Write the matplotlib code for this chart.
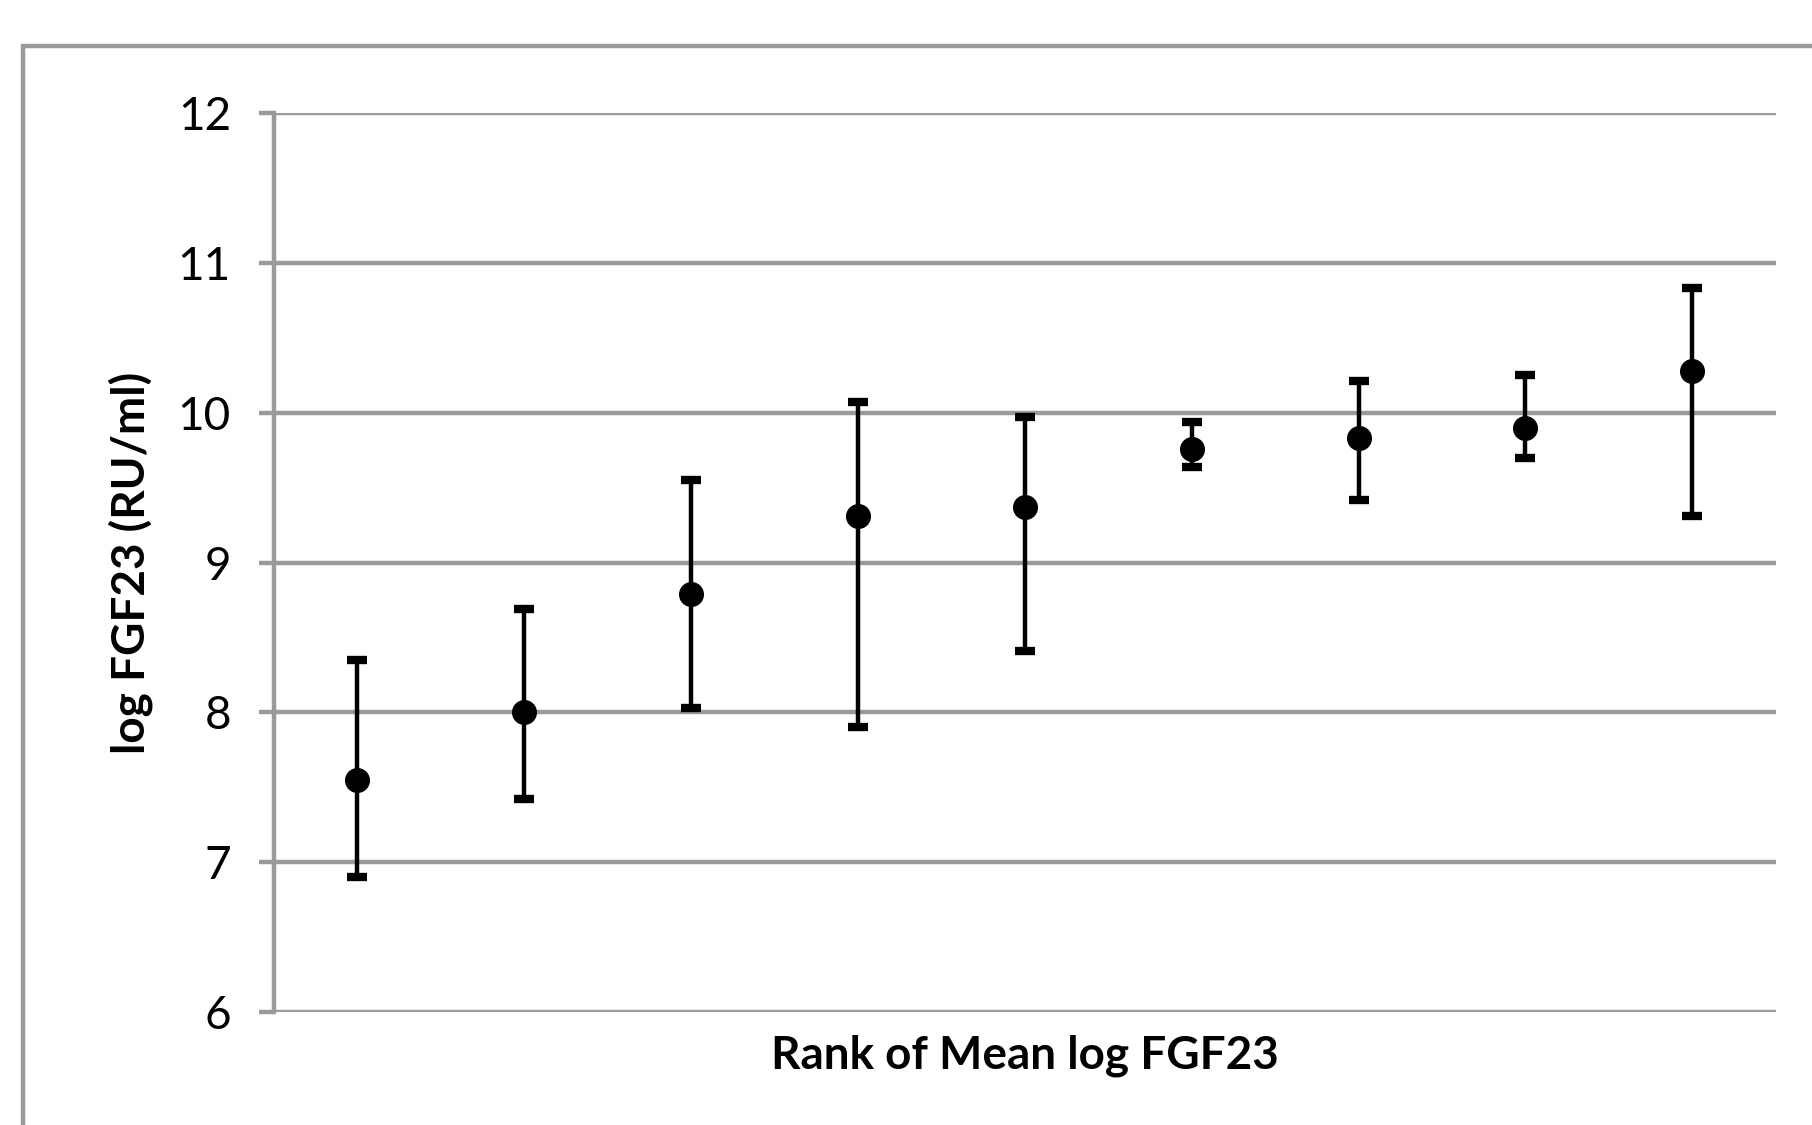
import numpy as np
import matplotlib
matplotlib.use("Agg")
import matplotlib.pyplot as plt
from matplotlib.patches import Rectangle

# rank of mean log FGF23 (1..9)
ranks = [1, 2, 3, 4, 5, 6, 7, 8, 9]
mean_fgf23 = [7.55, 8.00, 8.79, 9.31, 9.37, 9.76, 9.83, 9.90, 10.28]
upper_fgf23 = [8.35, 8.69, 9.55, 10.07, 9.97, 9.94, 10.21, 10.25, 10.83]
lower_fgf23 = [6.90, 7.42, 8.03, 7.90, 8.41, 9.64, 9.42, 9.70, 9.31]
y_ticks = [6, 7, 8, 9, 10, 11, 12]

GRID = "#9a9a9a"
plt.rcParams['font.family'] = ['Lato', 'DejaVu Sans']

fig = plt.figure(figsize=(18.12, 11.25), dpi=100)
ax = fig.add_axes([0.1512, 0.1004, 0.8288, 0.7992])

mean = np.array(mean_fgf23)
err = [mean - np.array(lower_fgf23), np.array(upper_fgf23) - mean]
ax.errorbar(ranks, mean, yerr=err, fmt='o', color='black', ms=17,
            elinewidth=3.2, capsize=7, capthick=6, zorder=3)

ax.set_xlim(0.5, 9.5)
ax.set_ylim(6, 12)
ax.set_yticks(y_ticks)
ax.set_xticks([])
ax.yaxis.grid(True, color=GRID, linewidth=3.2)
ax.set_axisbelow(True)
for s in ['top', 'right', 'bottom']:
    ax.spines[s].set_visible(False)
ax.spines['left'].set_color(GRID)
ax.spines['left'].set_linewidth(3.2)
ax.tick_params(axis='y', length=11, width=3.2, color=GRID, labelsize=33, pad=20)

ax.set_ylabel("log FGF23 (RU/ml)", fontsize=33, fontweight='bold', labelpad=18)
ax.set_xlabel("Rank of Mean log FGF23", fontsize=33, fontweight='bold', labelpad=16)

# outer chart frame, cut off at the right and bottom edges
fig.patches.append(Rectangle((0.0127, -0.05), 1.1, 1.009, transform=fig.transFigure,
                             fill=False, edgecolor=GRID, linewidth=3.2, zorder=0))

fig.savefig("out.png", dpi=100)
